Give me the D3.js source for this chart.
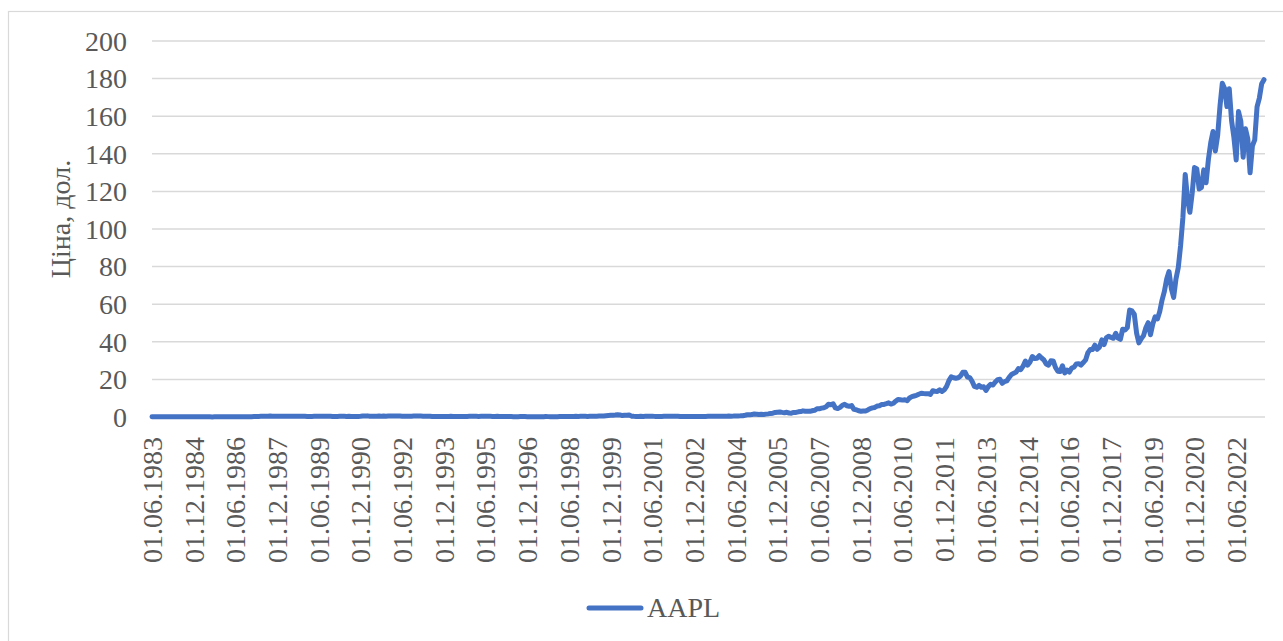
<!DOCTYPE html>
<html>
<head>
<meta charset="utf-8">
<script src="https://cdn.jsdelivr.net/npm/d3@7"></script>
<style>
    body { margin: 0; background: #fff; }
    svg { display: block; }
    .tickLabel { font-family: "Liberation Serif", "Times New Roman", serif; font-size: 28px; fill: #595959; }
    .gridLine { stroke: #d9d9d9; stroke-width: 1.5; }
    .priceLine { fill: none; stroke: #4472c4; stroke-width: 5; stroke-linejoin: round; stroke-linecap: round; }
</style>
</head>
<body>
<div id="chart"></div>
<script>
// AAPL monthly price, one row per year (1983 starts in June, 2023 ends in June)
var firstYear = 1983;
var firstMonth = 6;
var prices1983_1989 = [
    [0.15, 0.12, 0.10, 0.09, 0.07, 0.09, 0.10],
    [0.11, 0.11, 0.12, 0.12, 0.11, 0.10, 0.10, 0.11, 0.10, 0.10, 0.10, 0.11],
    [0.12, 0.11, 0.10, 0.09, 0.08, 0.07, 0.07, 0.06, 0.07, 0.08, 0.08, 0.10],
    [0.10, 0.10, 0.11, 0.12, 0.13, 0.13, 0.12, 0.14, 0.13, 0.14, 0.15, 0.15],
    [0.19, 0.24, 0.30, 0.32, 0.35, 0.36, 0.36, 0.40, 0.48, 0.38, 0.36, 0.37],
    [0.38, 0.38, 0.40, 0.36, 0.37, 0.40, 0.38, 0.38, 0.38, 0.35, 0.35, 0.36],
    [0.31, 0.33, 0.31, 0.34, 0.39, 0.36, 0.35, 0.40, 0.41, 0.42, 0.40, 0.31]
];
var prices1990_1999 = [
    [0.30, 0.31, 0.35, 0.35, 0.37, 0.32, 0.38, 0.26, 0.26, 0.28, 0.32, 0.38],
    [0.49, 0.49, 0.60, 0.43, 0.38, 0.37, 0.43, 0.48, 0.42, 0.48, 0.43, 0.50],
    [0.55, 0.58, 0.53, 0.59, 0.54, 0.42, 0.39, 0.40, 0.41, 0.44, 0.50, 0.53],
    [0.54, 0.51, 0.46, 0.43, 0.45, 0.36, 0.24, 0.23, 0.23, 0.28, 0.28, 0.26],
    [0.31, 0.32, 0.34, 0.29, 0.29, 0.24, 0.28, 0.31, 0.30, 0.33, 0.34, 0.35],
    [0.36, 0.34, 0.32, 0.35, 0.37, 0.41, 0.43, 0.38, 0.33, 0.32, 0.35, 0.28],
    [0.24, 0.21, 0.22, 0.22, 0.23, 0.19, 0.16, 0.19, 0.20, 0.22, 0.21, 0.19],
    [0.14, 0.14, 0.17, 0.15, 0.15, 0.13, 0.19, 0.26, 0.20, 0.15, 0.15, 0.12],
    [0.16, 0.22, 0.24, 0.24, 0.25, 0.25, 0.31, 0.27, 0.34, 0.33, 0.39, 0.36],
    [0.36, 0.33, 0.40, 0.41, 0.40, 0.41, 0.48, 0.55, 0.58, 0.71, 0.81, 0.92]
];
var prices2000_2009 = [
    [0.93, 1.02, 1.21, 1.11, 0.75, 0.94, 0.91, 1.09, 0.46, 0.35, 0.30, 0.27],
    [0.39, 0.33, 0.39, 0.46, 0.36, 0.42, 0.33, 0.33, 0.28, 0.31, 0.38, 0.39],
    [0.44, 0.39, 0.42, 0.43, 0.42, 0.32, 0.27, 0.26, 0.26, 0.29, 0.27, 0.26],
    [0.26, 0.27, 0.25, 0.25, 0.32, 0.34, 0.38, 0.40, 0.37, 0.41, 0.37, 0.38],
    [0.40, 0.43, 0.48, 0.46, 0.50, 0.58, 0.58, 0.62, 0.69, 0.93, 1.20, 1.15],
    [1.37, 1.60, 1.49, 1.29, 1.42, 1.31, 1.52, 1.67, 1.91, 2.04, 2.41, 2.57],
    [2.69, 2.45, 2.24, 2.52, 2.13, 2.04, 2.42, 2.42, 2.75, 2.90, 3.26, 3.03],
    [3.06, 3.01, 3.32, 3.57, 4.33, 4.36, 4.71, 4.92, 5.48, 6.78, 6.53, 7.07],
    [4.82, 4.47, 5.13, 6.22, 6.74, 5.98, 5.67, 6.05, 4.06, 3.85, 3.29, 3.05],
    [3.20, 3.19, 3.75, 4.49, 4.86, 5.09, 5.84, 6.01, 6.62, 6.71, 7.10, 7.53]
];
var prices2010_2019 = [
    [6.86, 7.31, 8.39, 9.33, 9.18, 8.98, 9.19, 8.68, 10.13, 10.81, 11.17, 11.52],
    [12.12, 12.61, 12.45, 12.43, 12.42, 11.99, 13.95, 13.71, 13.62, 14.45, 13.59, 14.46],
    [16.30, 19.37, 21.41, 20.89, 20.63, 20.86, 21.81, 23.76, 23.82, 21.25, 20.91, 19.01],
    [16.27, 15.81, 16.88, 15.81, 16.06, 14.16, 16.16, 17.39, 17.03, 18.60, 19.86, 20.04],
    [17.88, 18.83, 19.17, 21.07, 22.61, 23.23, 23.90, 25.72, 25.19, 27.01, 29.73, 27.59],
    [29.29, 32.19, 31.11, 31.29, 32.57, 31.36, 30.33, 28.19, 27.57, 29.88, 29.82, 26.31],
    [24.34, 24.17, 27.25, 23.44, 24.97, 23.90, 26.05, 26.52, 28.26, 28.39, 27.63, 28.95],
    [30.34, 34.25, 35.92, 35.91, 38.19, 36.01, 37.18, 41.00, 38.53, 42.26, 42.96, 42.31],
    [41.86, 44.53, 41.95, 41.31, 46.72, 46.28, 47.57, 56.91, 56.44, 54.72, 44.65, 39.44],
    [41.61, 43.29, 47.49, 50.17, 43.77, 49.48, 53.26, 52.19, 56.07, 62.19, 66.81, 73.41]
];
var prices2020_2023 = [
    [77.38, 68.34, 63.57, 73.45, 79.49, 91.20, 106.26, 129.04, 115.81, 108.86, 119.05, 132.69],
    [131.96, 121.26, 122.15, 131.46, 124.61, 136.96, 145.86, 151.83, 141.50, 149.80, 165.30, 177.57],
    [174.78, 165.12, 174.61, 157.65, 148.84, 136.72, 162.51, 157.22, 138.20, 153.34, 148.03, 129.93],
    [144.29, 147.41, 164.90, 169.68, 177.25, 179.40]
];
var yTicks = [0, 20, 40, 60, 80, 100, 120, 140, 160, 180, 200];
var labelEvery = 18;
var seriesName = "AAPL";
var yTitle = "Ціна, дол.";

/**
 * Constructor for the price line chart
 */
function PriceChart() {
    var self = this;
    self.init();
};

/**
 * Creates the svg and the frame around the chart
 */
PriceChart.prototype.init = function () {
    var self = this;
    self.svgWidth = 1283;
    self.svgHeight = 641;
    self.plot = { left: 152, right: 1264, top: 41, bottom: 417 };

    self.svg = d3.select("#chart").append("svg")
        .attr("width", self.svgWidth)
        .attr("height", self.svgHeight);

    // chart area border (runs past the right and bottom edge)
    self.svg.append("rect")
        .attr("x", 8.5)
        .attr("y", 11.5)
        .attr("width", 1300)
        .attr("height", 660)
        .attr("fill", "#fff")
        .attr("stroke", "#d9d9d9")
        .attr("stroke-width", 1.2);
};

/**
 * Turns the yearly rows into one list of {label, value}
 */
PriceChart.prototype.buildData = function () {
    var rows = [].concat(prices1983_1989, prices1990_1999, prices2000_2009, prices2010_2019, prices2020_2023);
    var data = [];
    rows.forEach(function (row, r) {
        var year = firstYear + r;
        var startMonth = r === 0 ? firstMonth : 1;
        row.forEach(function (v, i) {
            var m = startMonth + i;
            data.push({ label: "01." + (m < 10 ? "0" + m : m) + "." + year, value: v });
        });
    });
    return data;
};

/**
 * Draws gridlines, axis labels, the line and the legend
 */
PriceChart.prototype.update = function () {
    var self = this;
    var data = self.buildData();
    var p = self.plot;

    var xScale = d3.scalePoint()
        .domain(data.map(function (d) { return d.label; }))
        .range([p.left, p.right]);

    var yScale = d3.scaleLinear()
        .domain([0, 200])
        .range([p.bottom, p.top]);

    // horizontal gridlines
    self.svg.append("g").selectAll("line")
        .data(yTicks)
        .enter()
        .append("line")
        .attr("class", "gridLine")
        .attr("x1", p.left)
        .attr("x2", p.right + 1)
        .attr("y1", function (d) { return yScale(d); })
        .attr("y2", function (d) { return yScale(d); });

    // y tick labels
    self.svg.append("g").selectAll("text")
        .data(yTicks)
        .enter()
        .append("text")
        .attr("class", "tickLabel")
        .attr("x", 127)
        .attr("y", function (d) { return yScale(d); })
        .attr("dy", "0.35em")
        .attr("text-anchor", "end")
        .text(function (d) { return d; });

    // x tick labels, one every 18 months, rotated
    var xLabels = data.filter(function (d, i) { return i % labelEvery === 0; });
    self.svg.append("g").selectAll("text")
        .data(xLabels)
        .enter()
        .append("text")
        .attr("class", "tickLabel")
        .attr("transform", function (d) {
            return "translate(" + xScale(d.label) + "," + 437 + ") rotate(-90)";
        })
        .attr("dy", "0.35em")
        .attr("text-anchor", "end")
        .text(function (d) { return d.label; });

    // y axis title
    self.svg.append("text")
        .attr("class", "tickLabel")
        .attr("transform", "translate(70,219) rotate(-90)")
        .attr("text-anchor", "middle")
        .text(yTitle);

    var line = d3.line()
        .x(function (d) { return xScale(d.label); })
        .y(function (d) { return yScale(d.value); });

    self.svg.append("path")
        .datum(data)
        .attr("class", "priceLine")
        .attr("d", line);

    // legend
    var legend = self.svg.append("g");
    legend.append("line")
        .attr("class", "priceLine")
        .attr("x1", 589)
        .attr("x2", 641)
        .attr("y1", 608)
        .attr("y2", 608);
    legend.append("text")
        .attr("class", "tickLabel")
        .attr("x", 647)
        .attr("y", 617)
        .text(seriesName);
};

var chart = new PriceChart();
chart.update();
</script>
</body>
</html>
